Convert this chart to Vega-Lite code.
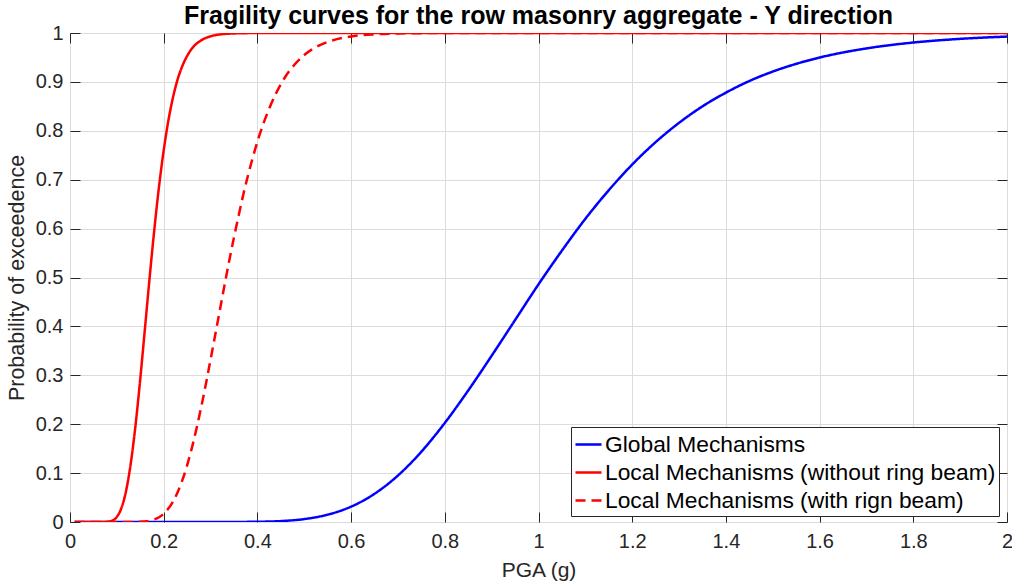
{
  "$schema": "https://vega.github.io/schema/vega-lite/v6.json",
  "width": 937,
  "height": 489,
  "autosize": "none",
  "padding": {"left": 70, "top": 33, "right": 5, "bottom": 66},
  "background": "white",
  "title": {
    "text": "Fragility curves for the row masonry aggregate - Y direction",
    "font": "Liberation Sans",
    "fontSize": 25,
    "fontWeight": "bold",
    "color": "black",
    "anchor": "middle",
    "baseline": "bottom",
    "offset": -31
  },
  "config": {
    "view": {"stroke": "#262626", "strokeWidth": 1},
    "font": "Liberation Sans",
    "axis": {
      "labelFont": "Liberation Sans",
      "labelFontSize": 20,
      "labelColor": "#262626",
      "titleFont": "Liberation Sans",
      "titleFontSize": 21,
      "titleFontWeight": "normal",
      "titleColor": "#262626",
      "gridColor": "#dcdcdc",
      "gridWidth": 1,
      "tickColor": "#262626",
      "domain": false
    }
  },
  "datasets": {
    "curves": [
      {"series": "Global Mechanisms", "x": 0.01, "p": 0},
      {"series": "Global Mechanisms", "x": 0.2, "p": 0},
      {"series": "Global Mechanisms", "x": 0.3, "p": 0},
      {"series": "Global Mechanisms", "x": 0.35, "p": 0.0001},
      {"series": "Global Mechanisms", "x": 0.4, "p": 0.0005},
      {"series": "Global Mechanisms", "x": 0.45, "p": 0.0019},
      {"series": "Global Mechanisms", "x": 0.5, "p": 0.006},
      {"series": "Global Mechanisms", "x": 0.55, "p": 0.015},
      {"series": "Global Mechanisms", "x": 0.6, "p": 0.0314},
      {"series": "Global Mechanisms", "x": 0.65, "p": 0.0577},
      {"series": "Global Mechanisms", "x": 0.7, "p": 0.0951},
      {"series": "Global Mechanisms", "x": 0.75, "p": 0.1438},
      {"series": "Global Mechanisms", "x": 0.8, "p": 0.2026},
      {"series": "Global Mechanisms", "x": 0.85, "p": 0.269},
      {"series": "Global Mechanisms", "x": 0.9, "p": 0.34},
      {"series": "Global Mechanisms", "x": 0.95, "p": 0.413},
      {"series": "Global Mechanisms", "x": 1.0, "p": 0.486},
      {"series": "Global Mechanisms", "x": 1.05, "p": 0.555},
      {"series": "Global Mechanisms", "x": 1.1, "p": 0.62},
      {"series": "Global Mechanisms", "x": 1.15, "p": 0.6785},
      {"series": "Global Mechanisms", "x": 1.2, "p": 0.731},
      {"series": "Global Mechanisms", "x": 1.25, "p": 0.7768},
      {"series": "Global Mechanisms", "x": 1.3, "p": 0.8163},
      {"series": "Global Mechanisms", "x": 1.35, "p": 0.85},
      {"series": "Global Mechanisms", "x": 1.4, "p": 0.878},
      {"series": "Global Mechanisms", "x": 1.45, "p": 0.9018},
      {"series": "Global Mechanisms", "x": 1.5, "p": 0.9211},
      {"series": "Global Mechanisms", "x": 1.55, "p": 0.9369},
      {"series": "Global Mechanisms", "x": 1.6, "p": 0.9498},
      {"series": "Global Mechanisms", "x": 1.7, "p": 0.9685},
      {"series": "Global Mechanisms", "x": 1.8, "p": 0.9805},
      {"series": "Global Mechanisms", "x": 1.9, "p": 0.988},
      {"series": "Global Mechanisms", "x": 2.0, "p": 0.9927},
      {"series": "Local Mechanisms (without ring beam)", "x": 0.01, "p": 0},
      {"series": "Local Mechanisms (without ring beam)", "x": 0.05, "p": 0},
      {"series": "Local Mechanisms (without ring beam)", "x": 0.07, "p": 0.0001},
      {"series": "Local Mechanisms (without ring beam)", "x": 0.08, "p": 0.0005},
      {"series": "Local Mechanisms (without ring beam)", "x": 0.09, "p": 0.0028},
      {"series": "Local Mechanisms (without ring beam)", "x": 0.1, "p": 0.0105},
      {"series": "Local Mechanisms (without ring beam)", "x": 0.11, "p": 0.0292},
      {"series": "Local Mechanisms (without ring beam)", "x": 0.12, "p": 0.065},
      {"series": "Local Mechanisms (without ring beam)", "x": 0.13, "p": 0.122},
      {"series": "Local Mechanisms (without ring beam)", "x": 0.14, "p": 0.199},
      {"series": "Local Mechanisms (without ring beam)", "x": 0.15, "p": 0.293},
      {"series": "Local Mechanisms (without ring beam)", "x": 0.16, "p": 0.396},
      {"series": "Local Mechanisms (without ring beam)", "x": 0.17, "p": 0.5},
      {"series": "Local Mechanisms (without ring beam)", "x": 0.18, "p": 0.598},
      {"series": "Local Mechanisms (without ring beam)", "x": 0.19, "p": 0.686},
      {"series": "Local Mechanisms (without ring beam)", "x": 0.2, "p": 0.76},
      {"series": "Local Mechanisms (without ring beam)", "x": 0.21, "p": 0.821},
      {"series": "Local Mechanisms (without ring beam)", "x": 0.22, "p": 0.869},
      {"series": "Local Mechanisms (without ring beam)", "x": 0.23, "p": 0.906},
      {"series": "Local Mechanisms (without ring beam)", "x": 0.24, "p": 0.933},
      {"series": "Local Mechanisms (without ring beam)", "x": 0.25, "p": 0.953},
      {"series": "Local Mechanisms (without ring beam)", "x": 0.26, "p": 0.968},
      {"series": "Local Mechanisms (without ring beam)", "x": 0.28, "p": 0.985},
      {"series": "Local Mechanisms (without ring beam)", "x": 0.3, "p": 0.9932},
      {"series": "Local Mechanisms (without ring beam)", "x": 0.33, "p": 0.998},
      {"series": "Local Mechanisms (without ring beam)", "x": 0.36, "p": 0.9994},
      {"series": "Local Mechanisms (without ring beam)", "x": 0.4, "p": 0.9999},
      {"series": "Local Mechanisms (without ring beam)", "x": 0.5, "p": 1},
      {"series": "Local Mechanisms (without ring beam)", "x": 1.0, "p": 1},
      {"series": "Local Mechanisms (without ring beam)", "x": 2.0, "p": 1},
      {"series": "Local Mechanisms (with rign beam)", "x": 0.01, "p": 0},
      {"series": "Local Mechanisms (with rign beam)", "x": 0.1, "p": 0},
      {"series": "Local Mechanisms (with rign beam)", "x": 0.13, "p": 0.0001},
      {"series": "Local Mechanisms (with rign beam)", "x": 0.15, "p": 0.00045},
      {"series": "Local Mechanisms (with rign beam)", "x": 0.165, "p": 0.0017},
      {"series": "Local Mechanisms (with rign beam)", "x": 0.18, "p": 0.0052},
      {"series": "Local Mechanisms (with rign beam)", "x": 0.19, "p": 0.0097},
      {"series": "Local Mechanisms (with rign beam)", "x": 0.2, "p": 0.0168},
      {"series": "Local Mechanisms (with rign beam)", "x": 0.21, "p": 0.0274},
      {"series": "Local Mechanisms (with rign beam)", "x": 0.22, "p": 0.042},
      {"series": "Local Mechanisms (with rign beam)", "x": 0.23, "p": 0.0616},
      {"series": "Local Mechanisms (with rign beam)", "x": 0.24, "p": 0.086},
      {"series": "Local Mechanisms (with rign beam)", "x": 0.25, "p": 0.116},
      {"series": "Local Mechanisms (with rign beam)", "x": 0.26, "p": 0.151},
      {"series": "Local Mechanisms (with rign beam)", "x": 0.27, "p": 0.191},
      {"series": "Local Mechanisms (with rign beam)", "x": 0.28, "p": 0.235},
      {"series": "Local Mechanisms (with rign beam)", "x": 0.29, "p": 0.282},
      {"series": "Local Mechanisms (with rign beam)", "x": 0.3, "p": 0.332},
      {"series": "Local Mechanisms (with rign beam)", "x": 0.31, "p": 0.383},
      {"series": "Local Mechanisms (with rign beam)", "x": 0.32, "p": 0.434},
      {"series": "Local Mechanisms (with rign beam)", "x": 0.33, "p": 0.485},
      {"series": "Local Mechanisms (with rign beam)", "x": 0.34, "p": 0.535},
      {"series": "Local Mechanisms (with rign beam)", "x": 0.35, "p": 0.582},
      {"series": "Local Mechanisms (with rign beam)", "x": 0.36, "p": 0.627},
      {"series": "Local Mechanisms (with rign beam)", "x": 0.37, "p": 0.67},
      {"series": "Local Mechanisms (with rign beam)", "x": 0.38, "p": 0.709},
      {"series": "Local Mechanisms (with rign beam)", "x": 0.39, "p": 0.745},
      {"series": "Local Mechanisms (with rign beam)", "x": 0.4, "p": 0.778},
      {"series": "Local Mechanisms (with rign beam)", "x": 0.42, "p": 0.833},
      {"series": "Local Mechanisms (with rign beam)", "x": 0.44, "p": 0.877},
      {"series": "Local Mechanisms (with rign beam)", "x": 0.46, "p": 0.911},
      {"series": "Local Mechanisms (with rign beam)", "x": 0.48, "p": 0.936},
      {"series": "Local Mechanisms (with rign beam)", "x": 0.5, "p": 0.955},
      {"series": "Local Mechanisms (with rign beam)", "x": 0.53, "p": 0.9736},
      {"series": "Local Mechanisms (with rign beam)", "x": 0.56, "p": 0.9848},
      {"series": "Local Mechanisms (with rign beam)", "x": 0.6, "p": 0.9929},
      {"series": "Local Mechanisms (with rign beam)", "x": 0.65, "p": 0.9973},
      {"series": "Local Mechanisms (with rign beam)", "x": 0.7, "p": 0.999},
      {"series": "Local Mechanisms (with rign beam)", "x": 0.8, "p": 0.9999},
      {"series": "Local Mechanisms (with rign beam)", "x": 1.0, "p": 1},
      {"series": "Local Mechanisms (with rign beam)", "x": 2.0, "p": 1}
    ]
  },
  "data": {"name": "curves"},
  "layer": [
    {
      "mark": {"type": "line", "strokeWidth": 2.5, "interpolate": "monotone", "clip": true},
      "encoding": {
        "x": {
          "field": "x", "type": "quantitative",
          "scale": {"domain": [0, 2], "nice": false, "zero": false},
          "axis": {
            "title": "PGA (g)",
            "values": [0, 0.2, 0.4, 0.6, 0.8, 1, 1.2, 1.4, 1.6, 1.8, 2],
            "format": "~g",
            "tickSize": -10,
            "labelPadding": 19,
            "titlePadding": 8,
            "grid": true,
            "labelFlush": false,
            "labelOverlap": false
          }
        },
        "y": {
          "field": "p", "type": "quantitative",
          "scale": {"domain": [0, 1], "nice": false},
          "axis": {
            "title": "Probability of exceedence",
            "values": [0, 0.1, 0.2, 0.3, 0.4, 0.5, 0.6, 0.7, 0.8, 0.9, 1],
            "format": "~g",
            "tickSize": -10,
            "labelPadding": 17,
            "titlePadding": 7,
            "titleFontSize": 21.5,
            "grid": true,
            "labelFlush": false,
            "labelOverlap": false
          }
        },
        "color": {
          "field": "series", "type": "nominal",
          "scale": {
            "domain": ["Global Mechanisms", "Local Mechanisms (without ring beam)", "Local Mechanisms (with rign beam)"],
            "range": ["#0000ff", "#ff0000", "#ff0000"]
          },
          "legend": {
            "title": null,
            "orient": "none",
            "legendX": 501,
            "legendY": 394,
            "symbolType": "stroke",
            "symbolSize": 676,
            "symbolStrokeWidth": 2.5,
            "labelFont": "Liberation Sans",
            "labelFontSize": 22.8,
            "labelColor": "black",
            "labelOffset": 2,
            "labelLimit": 600,
            "rowPadding": 1,
            "padding": 3,
            "strokeColor": "#262626",
            "fillColor": "white"
          }
        },
        "strokeDash": {
          "field": "series", "type": "nominal",
          "scale": {
            "domain": ["Global Mechanisms", "Local Mechanisms (without ring beam)", "Local Mechanisms (with rign beam)"],
            "range": [[1, 0], [1, 0], [10, 6]]
          },
          "legend": null
        }
      }
    },
    {
      "mark": {"type": "line", "opacity": 0},
      "encoding": {
        "x": {
          "field": "x", "type": "quantitative",
          "axis": {
            "orient": "top",
            "values": [0, 0.2, 0.4, 0.6, 0.8, 1, 1.2, 1.4, 1.6, 1.8, 2],
            "labels": false, "grid": false, "title": null, "tickSize": -10
          }
        },
        "y": {
          "field": "p", "type": "quantitative",
          "axis": {
            "orient": "right",
            "values": [0, 0.1, 0.2, 0.3, 0.4, 0.5, 0.6, 0.7, 0.8, 0.9, 1],
            "labels": false, "grid": false, "title": null, "tickSize": -10
          }
        }
      }
    }
  ],
  "resolve": {"axis": {"x": "independent", "y": "independent"}}
}
